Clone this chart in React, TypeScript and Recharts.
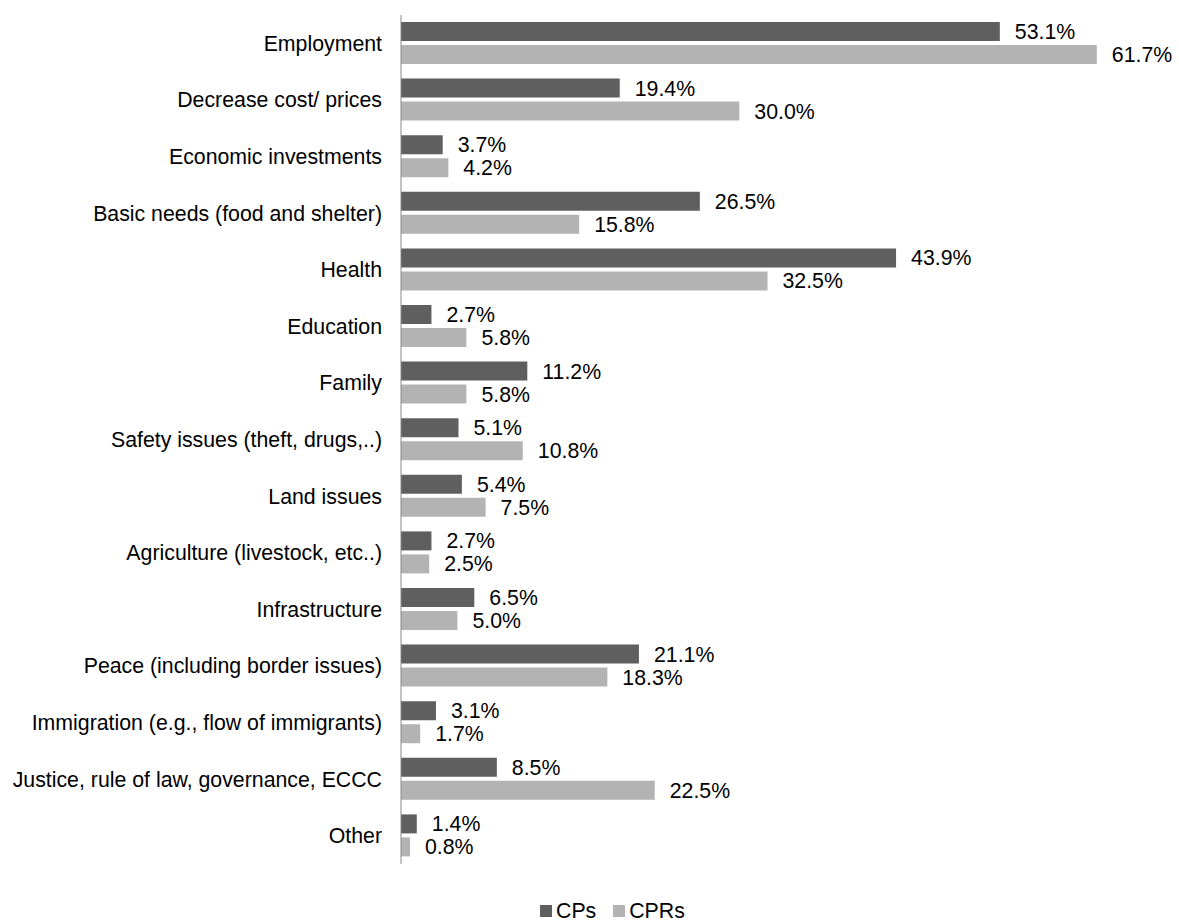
import { BarChart, Bar, XAxis, YAxis, Legend, LabelList } from "recharts";

const categories = [
  "Employment",
  "Decrease cost/ prices",
  "Economic investments",
  "Basic needs (food and shelter)",
  "Health",
  "Education",
  "Family",
  "Safety issues (theft, drugs,..)",
  "Land issues",
  "Agriculture (livestock, etc..)",
  "Infrastructure",
  "Peace (including border issues)",
  "Immigration (e.g., flow of immigrants)",
  "Justice, rule of law, governance, ECCC",
  "Other",
];
const cps = [53.1, 19.4, 3.7, 26.5, 43.9, 2.7, 11.2, 5.1, 5.4, 2.7, 6.5, 21.1, 3.1, 8.5, 1.4];
const cprs = [61.7, 30.0, 4.2, 15.8, 32.5, 5.8, 5.8, 10.8, 7.5, 2.5, 5.0, 18.3, 1.7, 22.5, 0.8];

const data = categories.map((name, i) => ({ name, cps: cps[i], cprs: cprs[i] }));

const DARK = "#5f5f5f";
const LIGHT = "#b3b3b3";
const FONT = 21.3;

const fmt = (v: number) => `${v.toFixed(1)}%`;

const LegendBox = () => (
  <div style={{ display: "flex", alignItems: "center", fontSize: FONT, color: "#000", lineHeight: "22px" }}>
    <span style={{ width: 12, height: 12, background: DARK, marginRight: 4 }} />
    <span style={{ marginRight: 17 }}>CPs</span>
    <span style={{ width: 12, height: 12, background: LIGHT, marginRight: 4 }} />
    <span>CPRs</span>
  </div>
);

export default function App() {
  return (
    <div
      style={{
        position: "absolute",
        left: 0,
        top: 0,
        width: 1179,
        height: 922,
        background: "#fff",
        fontFamily: "'Liberation Sans', Arial, sans-serif",
      }}
    >
      <BarChart
        width={1179}
        height={922}
        data={data}
        layout="vertical"
        margin={{ top: 15, right: 45, bottom: 0, left: 0 }}
        barSize={19}
        barGap={4}
      >
        <XAxis type="number" domain={[0, 65]} hide />
        <YAxis
          type="category"
          dataKey="name"
          width={401}
          tickLine={false}
          tickSize={6}
          tickMargin={13}
          axisLine={{ stroke: "#888888", strokeWidth: 1 }}
          tick={{ fill: "#000", fontSize: FONT }}
          interval={0}
        />
        <Legend
          verticalAlign="bottom"
          content={<LegendBox />}
          wrapperStyle={{ left: 540, width: 160, paddingTop: 36, height: 58, boxSizing: "border-box" }}
        />
        <Bar dataKey="cps" name="CPs" fill={DARK} isAnimationActive={false}>
          <LabelList dataKey="cps" position="right" offset={15} formatter={fmt} fill="#000" fontSize={FONT} />
        </Bar>
        <Bar dataKey="cprs" name="CPRs" fill={LIGHT} isAnimationActive={false}>
          <LabelList dataKey="cprs" position="right" offset={15} formatter={fmt} fill="#000" fontSize={FONT} />
        </Bar>
      </BarChart>
    </div>
  );
}
